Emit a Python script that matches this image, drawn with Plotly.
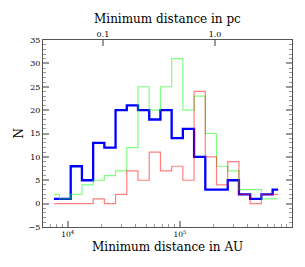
import math
import plotly.graph_objects as go

# log10 of bin centres (AU)
bin_centres_log = [3.877, 3.977, 4.077, 4.177, 4.277, 4.377, 4.477, 4.577, 4.677, 4.777,
                   4.877, 4.977, 5.077, 5.177, 5.277, 5.377, 5.477, 5.577, 5.677, 5.777, 5.877]
blue_counts = [1, 1, 8, 5, 13, 12, 20, 21, 20, 18, 20, 14, 16, 10, 3, 3, 5, 2, 1, 2, 3]
green_counts = [2, 1, 2, 4, 5, 6, 7, 12, 25, 20, 25, 31, 20, 23, 15, 8, 7, 3, 3, 1, 1]
red_counts = [0, 0, 0, 0, 1, 0, 2, 7, 5, 11, 7, 8, 5, 24, 10, 4, 9, 2, 0, 2, 2]

y_ticks = [-5, 0, 5, 10, 15, 20, 25, 30, 35]
x_ticks = [1e4, 1e5, 1e6]
x_ticktext = ["10<sup>4</sup>", "10<sup>5</sup>", "10<sup>6</sup>"]
pc_ticks = [0.1, 1.0]
pc_ticktext = ["0.1", "1.0"]
AU_PER_PC = 206265.0

x_au = [10 ** v for v in bin_centres_log]

FONT = "DejaVu Serif"
AXC = "#555555"
TKC = "#9a9a9a"

fig = go.Figure()
fig.add_trace(go.Scatter(x=x_au, y=blue_counts, mode="lines", line_shape="hvh",
                         line=dict(color="rgb(0,0,255)", width=2.3), showlegend=False))
fig.add_trace(go.Scatter(x=x_au, y=green_counts, mode="lines", line_shape="hvh",
                         line=dict(color="rgba(0,255,0,0.5)", width=1.2), showlegend=False))
fig.add_trace(go.Scatter(x=x_au, y=red_counts, mode="lines", line_shape="hvh",
                         line=dict(color="rgba(255,0,0,0.5)", width=1.2), showlegend=False))
# top axis helper (no visible marks)
fig.add_trace(go.Scatter(x=[0.1, 1.0], y=[None, None], xaxis="x2", mode="lines",
                         showlegend=False, hoverinfo="skip"))

xr = [3.78, 6.0]
# page body has an 8px default margin: figure is sized/placed to compensate
fig.update_layout(
    width=289, height=251,
    margin=dict(l=35, r=5, t=32, b=32),
    paper_bgcolor="white", plot_bgcolor="white",
    font=dict(family=FONT, color="black"),
    xaxis=dict(type="log", range=xr, tickvals=x_ticks, ticktext=x_ticktext, automargin=False,
               ticks="inside", ticklen=6, tickwidth=2, tickcolor=TKC,
               minor=dict(ticks="inside", ticklen=3, tickwidth=1, tickcolor=TKC, dtick="D1", showgrid=False),
               showline=True, linecolor=AXC, linewidth=1, mirror=True,
               showgrid=False, zeroline=False, tickfont=dict(size=7.5, family=FONT)),
    xaxis2=dict(type="log", overlaying="x", side="top", anchor="y", automargin=False,
                range=[xr[0] - math.log10(AU_PER_PC), xr[1] - math.log10(AU_PER_PC)],
                tickvals=pc_ticks, ticktext=pc_ticktext,
                ticks="inside", ticklen=6, tickwidth=2, tickcolor=TKC,
                showline=False, showgrid=False, zeroline=False,
                tickfont=dict(size=8, family=FONT)),
    yaxis=dict(range=[-5, 35], tickvals=y_ticks, ticks="inside", ticklen=6, tickwidth=2, tickcolor=TKC,
               automargin=False,
               minor=dict(ticks="inside", ticklen=3, tickwidth=1, tickcolor=TKC, dtick=1, showgrid=False),
               showline=True, linecolor=AXC, linewidth=1, mirror="ticks",
               showgrid=False, zeroline=False, tickfont=dict(size=8, family=FONT)),
    annotations=[
        dict(text="Minimum distance in pc", xref="paper", yref="paper", x=0.5, y=1,
             xanchor="center", yanchor="middle", yshift=21, showarrow=False,
             font=dict(size=12, family=FONT)),
        dict(text="Minimum distance in AU", xref="paper", yref="paper", x=0.5, y=0,
             xanchor="center", yanchor="middle", yshift=-20, showarrow=False,
             font=dict(size=12, family=FONT)),
        dict(text="N", xref="paper", yref="paper", x=0, y=0.5, textangle=-90,
             xanchor="center", yanchor="middle", xshift=-25, showarrow=False,
             font=dict(size=12, family=FONT)),
    ],
)

fig.write_html("out.html")
